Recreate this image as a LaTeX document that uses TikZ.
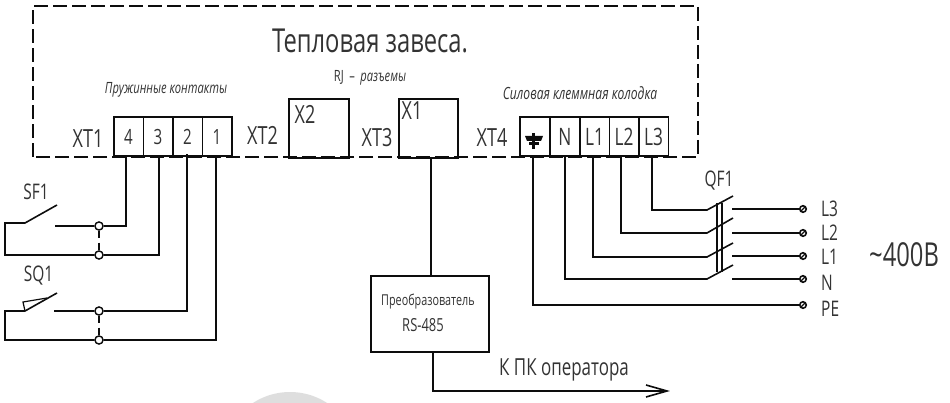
\documentclass[tikz,border=0pt]{standalone}
\usepackage{fontspec}
\setmainfont[FakeStretch=0.72]{Open Sans}
\definecolor{ink}{gray}{0.05}
\definecolor{txt}{gray}{0.2}
\definecolor{faintgray}{gray}{0.87}
\tikzset{
 x=1pt,y=-1pt,
 wire/.style={draw=ink,line width=1.6pt,line join=miter},
 frame/.style={draw=ink,line width=1.6pt,dash pattern=on 14pt off 5pt},
 cell/.style={draw=ink,line width=1.6pt,minimum height=39pt,inner sep=0pt,text=txt,font=\fontsize{24}{26}\selectfont,anchor=south west},
 digit/.style={font=\fontsize{21}{23}\selectfont},
 bigbox/.style={draw=ink,line width=1.6pt,inner sep=0pt,anchor=north west},
 lab/.style={text=txt,inner sep=0pt,font=\fontsize{25}{27}\selectfont},
 midlab/.style={lab,font=\fontsize{21.5}{24}\selectfont},
 small/.style={text=txt,inner sep=0pt,font=\fontsize{15.5}{18}\selectfont\itshape},
 jn/.style={circle,draw=ink,line width=1.3pt,fill=white,minimum size=8pt,inner sep=0pt},
 term/.style={circle,draw=ink,line width=1.6pt,fill=white,minimum size=6.5pt,inner sep=0pt,
   path picture={\draw[ink,line width=1.3pt] (path picture bounding box.south west)--(path picture bounding box.north east);}},
}
\begin{document}
\begin{tikzpicture}
\useasboundingbox (0,0) rectangle (950,403);
% faint round mark at the lower edge
\begin{scope}
\clip (0,0) rectangle (950,403);
\fill[faintgray] (290,460) circle (68);
\end{scope}
% frame
\draw[frame] (33,157) -- (33,6) -- (698,6) -- (698,157) -- cycle;
\node[lab,font=\fontsize{33}{35}\selectfont] (title) at (370,41) {Тепловая завеса.};
% XT1
\node[small] (lsp) at (166,90) {Пружинные контакты};
\node[lab] (xt1) at (88,139) {XT1};
\node[cell,digit,minimum width=29.5pt] (t4) at (113,157) {4};
\node[cell,digit,minimum width=29.5pt] (t3) at (142.5,157) {3};
\node[cell,digit,minimum width=29.5pt] (t2) at (172,157) {2};
\node[cell,digit,minimum width=29.5pt] (t1) at (201.5,157) {1};
% RJ
\node[lab] (xt2) at (262.5,135) {XT2};
\node[bigbox,minimum width=60pt,minimum height=59pt] (x2) at (288,98) {};
\node[lab] (x2l) at (305,114) {X2};
\node[small,font=\fontsize{15.5}{18}\selectfont] (rj) at (370,78) {\upshape RJ\ \,--\ \,\itshape разъемы};
\node[lab] (xt3) at (377,138) {XT3};
\node[bigbox,minimum width=59pt,minimum height=59pt] (x1) at (398,98) {};
\node[lab] (x1l) at (412,111) {X1};
% XT4
\node[lab] (xt4) at (492,138) {XT4};
\node[small,font=\fontsize{16.8}{18}\selectfont\itshape] (lsil) at (580,93) {Силовая клеммная колодка};
\node[cell,minimum width=30pt] (pe) at (519,157) {};
\node[cell,minimum width=30pt] (n) at (549,157) {N};
\node[cell,minimum width=29.5pt] (l1) at (579,157) {L1};
\node[cell,minimum width=29.5pt] (l2) at (608.5,157) {L2};
\node[cell,minimum width=29.5pt] (l3) at (638,157) {L3};
% ground symbol
\fill[ink] (525,136) -- (543,136) -- (541,141) -- (527,141) -- cycle;
\fill[ink] (528.5,142.5) rectangle (539,145.5);
\draw[ink,line width=2.2pt] (533.5,133) -- (533.5,149);
% left switches
\node[midlab] (sf1) at (36,192) {SF1};
\node[midlab] (sq1) at (38.5,276) {SQ1};
\node[jn] (j1) at (99,226) {};
\node[jn] (j2) at (99,255) {};
\node[jn] (j3) at (99,311) {};
\node[jn] (j4) at (99,340) {};
\draw[wire,dash pattern=on 7pt off 5pt] (j1) -- (j2);
\draw[wire,dash pattern=on 7pt off 5pt] (j3) -- (j4);
\coordinate (s1a) at (55,226);
\coordinate (s1b) at (25,223);
\coordinate (s1c) at (57,205);
\coordinate (s2a) at (54,311);
\coordinate (s2b) at (25,311);
\coordinate (s2c) at (57,293);
\draw[wire] (s1a) -- (j1) -- (126,226) -- (126,157);
\draw[wire] (s1c) -- (s1b) -- (5,223) -- (5,255) -- (j2) -- (159,255) -- (159,157);
\draw[wire] (s2a) -- (j3) -- (187,311) -- (187,154);
\draw[wire] (s2c) -- (s2b) -- (5,311) -- (5,340) -- (j4) -- (216,340) -- (216,157);
\draw[wire,line width=1.2pt] (25,311) -- (23,302) -- (47,298);
\node[jn] at (j1) {};
\node[jn] at (j2) {};
\node[jn] at (j3) {};
\node[jn] at (j4) {};
% converter
\node[bigbox,minimum width=118pt,minimum height=76pt] (conv) at (370,275) {};
\node[small,font=\fontsize{15}{18}\selectfont] (c1) at (428,302) {Преобразователь};
\node[small,font=\fontsize{18}{20}\selectfont] (c2) at (423,325) {RS-485};
\draw[wire] (431,157) -- (431,275);
\coordinate (pc) at (667,391);
\draw[wire] (433,351) -- (433,391) -- (pc);
\draw[wire] (646,385) -- (pc) -- (646,397);
\node[lab,font=\fontsize{23.5}{26}\selectfont] (kpc) at (564,370) {К ПК оператора};
% right side
\node[term] (tl3) at (803,209) {};
\node[term] (tl2) at (803,233) {};
\node[term] (tl1) at (803,256) {};
\node[term] (tn) at (803,279) {};
\node[term] (tpe) at (803,305) {};
\draw[wire] (533,157) -- (533,305) -- (tpe);
\draw[wire] (565,157) -- (565,279) -- (707,279) -- (733,265);
\draw[wire] (593,157) -- (593,257) -- (707,257) -- (733,243);
\draw[wire] (621,157) -- (621,233) -- (707,233) -- (733,218);
\draw[wire] (652,157) -- (652,210) -- (707,210) -- (733,196);
\draw[wire] (732,279) -- (tn);
\draw[wire] (732,256) -- (tl1);
\draw[wire] (732,233) -- (tl2);
\draw[wire] (732,209) -- (tl3);
\draw[wire,line width=1.2pt] (717,203) -- (717,272);
\draw[wire,line width=1.2pt] (722,203) -- (722,272);
\node[midlab] (qf) at (719,181) {QF1};
\node[midlab,anchor=west] (rl3) at (821,209) {L3};
\node[midlab,anchor=west] (rl2) at (821,233) {L2};
\node[midlab,anchor=west] (rl1) at (821,257) {L1};
\node[midlab,anchor=west] (rn) at (821,283) {N};
\node[midlab,anchor=west] (rpe) at (821,309) {PE};
\node[lab,font=\fontsize{33}{35}\selectfont,anchor=west] (v) at (869,255) {\char"007E 400В};
\end{tikzpicture}
\end{document}
